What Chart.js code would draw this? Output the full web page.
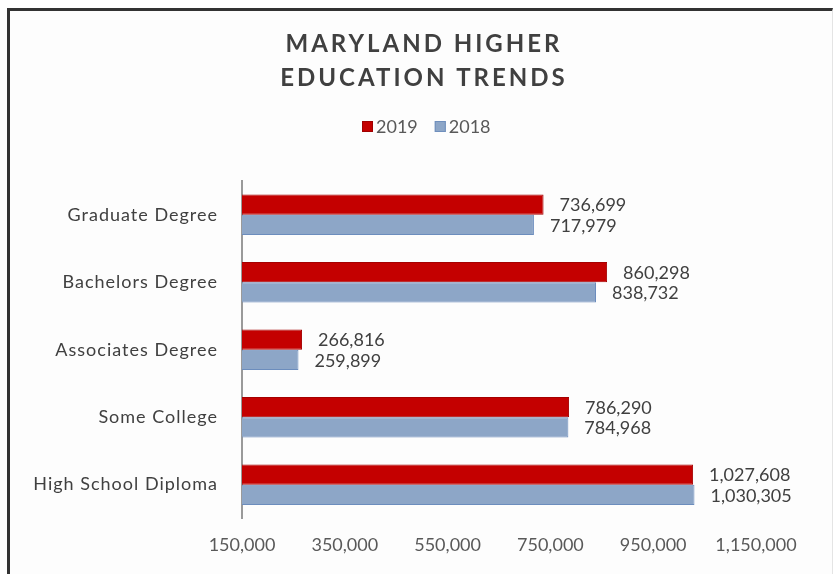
<!DOCTYPE html>
<html>
<head>
<meta charset="utf-8">
<title>Maryland Higher Education Trends</title>
<script src="https://cdn.jsdelivr.net/npm/chart.js@4/dist/chart.umd.min.js"></script>
<style>
  html, body { margin: 0; padding: 0; background: #fff; }
  #frame {
    position: absolute; left: 7px; top: 8px; width: 822px; height: 580px;
    border-top: 3px solid #333; border-left: 3px solid #333; border-right: 1px solid #e4e4e4;
    background: #fdfdfd;
  }
  #wrap { position: absolute; left: 0; top: 0; width: 837px; height: 574px; }
</style>
</head>
<body>
<div id="frame"></div>
<div id="wrap"><canvas id="eduChart" width="837" height="574"></canvas></div>
<script>
const categories = ['Graduate Degree', 'Bachelors Degree', 'Associates Degree', 'Some College', 'High School Diploma'];
const values2019 = [736699, 860298, 266816, 786290, 1027608];
const values2018 = [717979, 838732, 259899, 784968, 1030305];
const seriesNames = ['2019', '2018'];
const titleLines = ['MARYLAND HIGHER', 'EDUCATION TRENDS'];
const axisMin = 150000;
const axisMax = 1150000;
const axisStep = 200000;

const RED = '#C40000';
const BLUE = '#8DA6C7';
const TEXT = '#404040';
const FONT = 'Lato, "Open Sans", sans-serif';

const fmt = (v) => v.toLocaleString('en-US');

// title + legend drawn above the plot area
const header = {
  id: 'header',
  afterDraw(chart) {
    const ctx = chart.ctx;
    ctx.save();
    ctx.fillStyle = TEXT;
    ctx.font = `bold 24px ${FONT}`;
    ctx.letterSpacing = '3px';
    ctx.textAlign = 'center';
    ctx.textBaseline = 'middle';
    ctx.fillText(titleLines[0], 424, 44);
    ctx.fillText(titleLines[1], 424, 78);

    ctx.letterSpacing = '0px';
    ctx.font = `18px ${FONT}`;
    ctx.textAlign = 'left';
    const colors = [RED, BLUE];
    let x = 362;
    seriesNames.forEach((name, i) => {
      ctx.fillStyle = colors[i];
      ctx.fillRect(x, 121, 11, 11);
      ctx.strokeStyle = i === 0 ? '#a00000' : '#6f8fbd';
      ctx.lineWidth = 1;
      ctx.strokeRect(x + 0.5, 121.5, 10, 10);
      ctx.fillStyle = '#595959';
      ctx.fillText(name, x + 14, 127);
      x += 14 + ctx.measureText(name).width + 17;
    });
    ctx.restore();
  }
};

// value labels to the right of each bar
const barValues = {
  id: 'barValues',
  afterDatasetsDraw(chart) {
    const ctx = chart.ctx;
    ctx.save();
    ctx.font = `18px ${FONT}`;
    ctx.fillStyle = TEXT;
    ctx.textAlign = 'left';
    ctx.textBaseline = 'middle';
    chart.data.datasets.forEach((ds, di) => {
      chart.getDatasetMeta(di).data.forEach((bar, i) => {
        ctx.fillText(fmt(ds.data[i]), bar.x + 16, bar.y + 1);
      });
    });
    ctx.restore();
  }
};

// category names get a little tracking
const spacedCategories = {
  id: 'spacedCategories',
  afterUpdate(chart) {
    const y = chart.scales.y;
    if (y._spaced) return;
    const drawLabels = y.drawLabels;
    y.drawLabels = function (area) {
      this.ctx.save();
      this.ctx.letterSpacing = '1px';
      drawLabels.call(this, area);
      this.ctx.restore();
    };
    y._spaced = true;
  }
};

new Chart(document.getElementById('eduChart'), {
  type: 'bar',
  data: {
    labels: categories,
    datasets: [
      { label: seriesNames[0], data: values2019, backgroundColor: RED, borderColor: '#a50000', borderWidth: 1 },
      { label: seriesNames[1], data: values2018, backgroundColor: BLUE, borderColor: '#6c8dbd', borderWidth: 1 }
    ]
  },
  options: {
    indexAxis: 'y',
    responsive: false,
    animation: false,
    layout: { padding: { top: 181, right: 81, bottom: 2, left: 0 } },
    datasets: { bar: { categoryPercentage: 0.6, barPercentage: 1 } },
    plugins: { legend: { display: false }, title: { display: false }, tooltip: { enabled: false } },
    scales: {
      x: {
        min: axisMin,
        max: axisMax,
        grid: { display: false, drawTicks: false },
        border: { display: false },
        ticks: { stepSize: axisStep, padding: 16, color: '#595959', font: { family: FONT, size: 18 }, callback: (v) => fmt(v) }
      },
      y: {
        grid: { display: false, drawTicks: false },
        border: { display: true, color: '#9a9a9a', width: 2 },
        ticks: { padding: 24, color: TEXT, font: { family: FONT, size: 18 } },
        afterFit: (scale) => { scale.width = 242; }
      }
    }
  },
  plugins: [header, barValues, spacedCategories]
});
</script>
</body>
</html>
